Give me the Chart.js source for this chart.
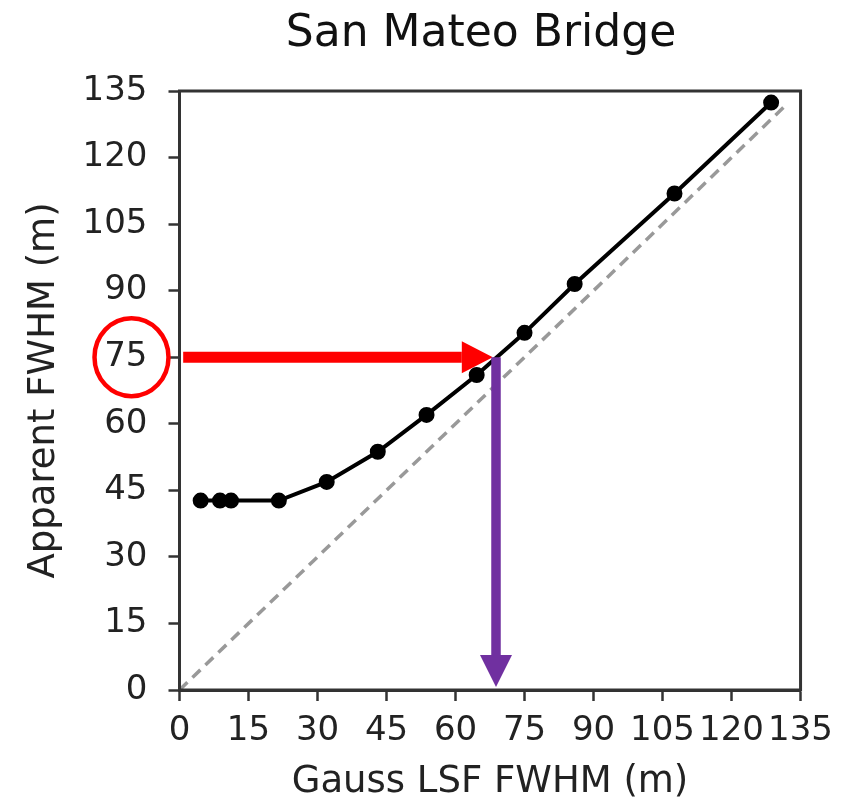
<!DOCTYPE html>
<html>
<head>
<meta charset="utf-8">
<script src="https://cdn.jsdelivr.net/npm/chart.js@4"></script>
<style>
  html, body { margin: 0; background: #fff; }
  #wrap { width: 843px; height: 805px; }
</style>
</head>
<body>
<div id="wrap"><canvas id="fwhmChart" width="843" height="805"></canvas></div>
<script>
// Gauss LSF FWHM vs apparent FWHM, San Mateo Bridge
const lsfFwhm      = [4.6, 8.8, 11.2, 21.6, 32.0, 43.1, 53.7, 64.6, 75.0, 85.9, 107.6, 128.6];
const apparentFwhm = [42.7, 42.7, 42.7, 42.7, 46.9, 53.7, 62.0, 71.0, 80.5, 91.5, 111.9, 132.4];
const oneToOne     = [0, 132];
const axisTicks    = [0, 15, 30, 45, 60, 75, 90, 105, 120, 135];

// read-off arrows, in data units
const readArrowX   = [0.8, 68.1];
const readArrowY   = [75, 75];
const dropArrowX   = [68.8, 68.8];
const dropArrowY   = [75, 0.7];
const circledTick  = 75;

const chartTitle = 'San Mateo Bridge';
const FONT = "'DejaVu Sans', sans-serif";
const INK = '#222';

function drawArrow(ctx, x1, y1, x2, y2, shaftW, headLen, headHalf, color) {
  const dx = x2 - x1, dy = y2 - y1;
  const len = Math.hypot(dx, dy);
  const ux = dx / len, uy = dy / len;
  const bx = x2 - ux * headLen, by = y2 - uy * headLen;
  ctx.save();
  ctx.strokeStyle = color;
  ctx.fillStyle = color;
  ctx.lineWidth = shaftW;
  ctx.lineCap = 'butt';
  ctx.beginPath();
  ctx.moveTo(x1, y1);
  ctx.lineTo(bx, by);
  ctx.stroke();
  ctx.beginPath();
  ctx.moveTo(x2, y2);
  ctx.lineTo(bx - uy * headHalf, by + ux * headHalf);
  ctx.lineTo(bx + uy * headHalf, by - ux * headHalf);
  ctx.closePath();
  ctx.fill();
  ctx.restore();
}

const frameAndMarks = {
  id: 'frameAndMarks',
  afterDraw(chart) {
    const { ctx, chartArea: a, scales: { x, y } } = chart;
    ctx.save();
    // title centred over the axes box
    ctx.fillStyle = '#111';
    ctx.font = `44px ${FONT}`;
    ctx.textAlign = 'center';
    ctx.textBaseline = 'alphabetic';
    ctx.fillText(chartTitle, (a.left + a.right) / 2 - 9, 46);

    // full box around the plot
    ctx.strokeStyle = '#333';
    ctx.lineWidth = 3;
    ctx.strokeRect(a.left, a.top, a.right - a.left, a.bottom - a.top);

    drawArrow(ctx,
      x.getPixelForValue(readArrowX[0]), y.getPixelForValue(readArrowY[0]),
      x.getPixelForValue(readArrowX[1]), y.getPixelForValue(readArrowY[1]),
      11, 31, 16, '#ff0000');
    drawArrow(ctx,
      x.getPixelForValue(dropArrowX[0]), y.getPixelForValue(dropArrowY[0]),
      x.getPixelForValue(dropArrowX[1]), y.getPixelForValue(dropArrowY[1]),
      9.5, 32, 16, '#7030a0');

    // ring around the 75 tick label
    ctx.strokeStyle = '#ff0000';
    ctx.lineWidth = 4.5;
    ctx.beginPath();
    ctx.ellipse(a.left - 48, y.getPixelForValue(circledTick), 37, 39, 0, 0, Math.PI * 2);
    ctx.stroke();
    ctx.restore();
  }
};

const tickSet = scale => { scale.ticks = axisTicks.map(v => ({ value: v })); };

new Chart(document.getElementById('fwhmChart'), {
  type: 'scatter',
  data: {
    datasets: [
      {
        label: 'one-to-one',
        data: oneToOne.map(v => ({ x: v, y: v })),
        showLine: true,
        borderColor: '#999',
        borderWidth: 3.5,
        borderDash: [11, 7],
        pointRadius: 0,
        order: 0
      },
      {
        label: chartTitle,
        data: lsfFwhm.map((v, i) => ({ x: v, y: apparentFwhm[i] })),
        showLine: true,
        borderColor: '#000',
        backgroundColor: '#000',
        borderWidth: 4,
        pointRadius: 6,
        pointHoverRadius: 6,
        tension: 0,
        order: 1
      }
    ]
  },
  options: {
    responsive: false,
    animation: false,
    layout: { padding: { left: 0, right: 42, top: 91, bottom: 0 } },
    plugins: {
      legend: { display: false },
      tooltip: { enabled: false },
      title: { display: false }
    },
    scales: {
      x: {
        type: 'linear',
        min: 0,
        max: 135,
        afterBuildTicks: tickSet,
        afterFit(scale) { scale.height = 115; },
        border: { display: true, color: '#333', width: 3 },
        grid: { drawOnChartArea: false, drawTicks: true, tickLength: 11, tickColor: '#333', tickWidth: 2.5 },
        ticks: { color: INK, padding: 10, maxRotation: 0, autoSkip: false, font: { family: FONT, size: 34 } },
        title: {
          display: true,
          text: 'Gauss LSF FWHM (m)',
          color: INK,
          font: { family: FONT, size: 37 },
          padding: { top: 0, bottom: 0 }
        }
      },
      y: {
        type: 'linear',
        min: 0,
        max: 135,
        afterBuildTicks: tickSet,
        afterFit(scale) { scale.width = 179.5; },
        border: { display: true, color: '#333', width: 3 },
        grid: { drawOnChartArea: false, drawTicks: true, tickLength: 11, tickColor: '#333', tickWidth: 2.5 },
        ticks: { color: INK, padding: 21, autoSkip: false, font: { family: FONT, size: 34 } },
        title: {
          display: true,
          text: 'Apparent FWHM (m)',
          color: INK,
          font: { family: FONT, size: 37 },
          padding: { top: 22, bottom: 0 }
        }
      }
    }
  },
  plugins: [frameAndMarks]
});
</script>
</body>
</html>
